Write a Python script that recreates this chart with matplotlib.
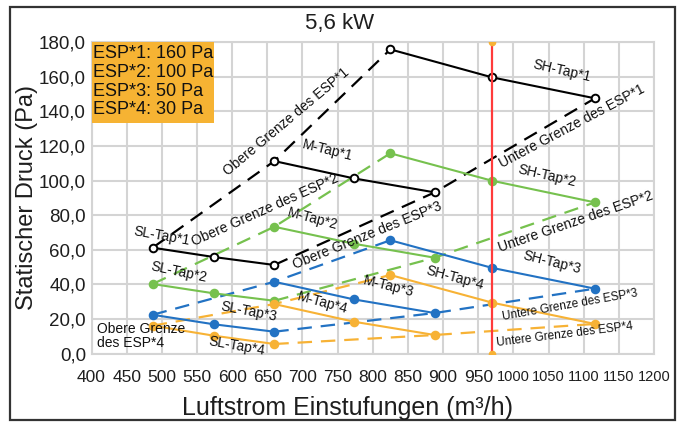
import matplotlib
matplotlib.use('Agg')
import matplotlib.pyplot as plt
from matplotlib import font_manager

# airflow per tap (m3/h)
airflow_sl = [487, 574, 660]
airflow_m = [660, 773, 888]
airflow_sh = [825, 970, 1116]

# static pressure (Pa) per ESP setting and tap
esp1_sl = [61.2, 55.8, 51.2]
esp1_m = [111.3, 101.3, 93.2]
esp1_sh = [175.9, 159.7, 147.6]
esp2_sl = [40.2, 34.8, 30.5]
esp2_m = [73.3, 63.5, 55.4]
esp2_sh = [115.8, 99.9, 87.4]
esp3_sl = [22.4, 16.9, 12.6]
esp3_m = [41.5, 31.3, 23.4]
esp3_sh = [65.5, 49.5, 37.5]
esp4_sl = [16.1, 10.3, 5.5]
esp4_m = [28.6, 18.4, 10.7]
esp4_sh = [45.4, 29.4, 17.1]

rated_airflow = 970
legend_lines = ['ESP*1: 160 Pa', 'ESP*2: 100 Pa', 'ESP*3: 50 Pa', 'ESP*4: 30 Pa']
x_ticks = list(range(400, 1201, 50))
y_ticks = list(range(0, 181, 20))

colors = ['#000000', '#76C14E', '#2272C3', '#F7B235']
esp_data = [
    (esp1_sl, esp1_m, esp1_sh),
    (esp2_sl, esp2_m, esp2_sh),
    (esp3_sl, esp3_m, esp3_sh),
    (esp4_sl, esp4_m, esp4_sh),
]


def pick_font(names):
    for n in names:
        try:
            font_manager.findfont(n, fallback_to_default=False)
            return n
        except Exception:
            pass
    return 'DejaVu Sans'


regular = pick_font(['Liberation Sans', 'Arial'])
plt.rcParams['font.family'] = [regular, 'DejaVu Sans']

fig = plt.figure(figsize=(6.89, 4.23), dpi=100)
ax = fig.add_axes([91.5 / 689, 1 - 353.5 / 423, (654 - 91.5) / 689, (353.5 - 42.3) / 423])

# frame round the whole picture
fig.patches.append(plt.Rectangle((10 / 689, 1 - 420 / 423), 665 / 689, 413 / 423,
                                 transform=fig.transFigure, fill=False,
                                 edgecolor='#333333', linewidth=1.6))

for c, (sl, m, sh) in zip(colors, esp_data):
    for xs, ys in ((airflow_sl, sl), (airflow_m, m), (airflow_sh, sh)):
        ax.plot(xs, ys, color=c, lw=1.5, marker='o', ms=5.5,
                mfc=('white' if c == '#000000' else c), mec=c, mew=1.4, zorder=4)
    # upper limit joins the first point of each tap, lower limit the last one
    upper_x = [airflow_sl[0], airflow_m[0], airflow_sh[0]]
    upper_y = [sl[0], m[0], sh[0]]
    lower_x = [airflow_sl[-1], airflow_m[-1], airflow_sh[-1]]
    lower_y = [sl[-1], m[-1], sh[-1]]
    ax.plot(upper_x, upper_y, color=c, lw=1.6, dashes=(6.5, 4), zorder=3)
    ax.plot(lower_x, lower_y, color=c, lw=1.6, dashes=(6.5, 4), zorder=3)

ax.plot([rated_airflow, rated_airflow], [0, 180], color='#FF3B3B', lw=1.6,
        marker='o', ms=4.5, mfc='#F7B235', mec='#F7B235', zorder=5)

ax.set_xlim(400, 1200)
ax.set_ylim(0, 180)
ax.set_xticks(x_ticks)
ax.set_yticks(y_ticks)
ax.set_yticklabels([f'{v},0' for v in y_ticks], fontsize=13.5)
ax.set_xticklabels([str(v) for v in x_ticks], fontsize=12.5)
for lab in ax.get_xticklabels():
    if len(lab.get_text()) == 4:
        lab.set_fontsize(10.5)
ax.tick_params(length=0, pad=4, colors='#1E1E1E')
ax.tick_params(axis='x', pad=12)
ax.grid(True, color='#D4D4D4', lw=1.5)
ax.set_axisbelow(True)
for s in ax.spines.values():
    s.set_color('#D4D4D4')
    s.set_linewidth(1.5)

ax.set_ylabel('Statischer Druck (Pa)', fontsize=17, color='#1E1E1E', labelpad=1)
fig.text(348 / 689, 1 - 408 / 423, 'Luftstrom Einstufungen (m³/h)', fontsize=18,
         ha='center', va='center', color='#1E1E1E')
fig.text(340 / 689, 1 - 24 / 423, '5,6 kW', fontsize=16, ha='center', va='center', color='#1E1E1E')

# ESP box
ax.add_patch(plt.Rectangle((400, 133.3), 174, 46.7, facecolor='#F6B333', edgecolor='none',
                           zorder=6, clip_on=False))
for i, line in enumerate(legend_lines):
    ax.text(402.5, 173.3 - i * 10.75, line, fontsize=13, va='center', ha='left',
            color='#111111', zorder=7)

lab_fs = 10
small_fs = 8.5
labels = [
    ('SH-Tap*1', 1069, 163.5, -13, lab_fs),
    ('Untere Grenze des ESP*1', 1083, 131.6, 28, lab_fs),
    ('Obere Grenze des ESP*1', 677, 133.9, 40, lab_fs),
    ('M-Tap*1', 736, 117.7, -14, lab_fs),
    ('SH-Tap*2', 1048, 103, -13, lab_fs),
    ('Obere Grenze des ESP*2', 647, 83, 24, lab_fs),
    ('Untere Grenze des ESP*2', 1089, 76, 19, lab_fs),
    ('SL-Tap*1', 500, 68, -10, lab_fs),
    ('M-Tap*2', 714, 77.8, -15, lab_fs),
    ('Obere Grenze des ESP*3', 792, 68, 22, lab_fs),
    ('SH-Tap*3', 1055, 52.9, -14, lab_fs),
    ('SL-Tap*2', 524.5, 47, -12, lab_fs),
    ('SH-Tap*4', 917, 43.7, -15, lab_fs),
    ('M-Tap*3', 822, 38.5, -14, lab_fs),
    ('M-Tap*4', 728, 29.2, -15, lab_fs),
    ('Untere Grenze des ESP*3', 1081, 28, 10, small_fs),
    ('SL-Tap*3', 624, 24, -11, lab_fs),
    ('SL-Tap*4', 607, 4.3, -10, lab_fs),
    ('Untere Grenze des ESP*4', 1073, 10.7, 7, small_fs),
]
for txt, x, y, rot, fs in labels:
    ax.text(x, y, txt, rotation=rot, rotation_mode='anchor', ha='center', va='center',
            fontsize=fs, color='#111111', zorder=6)
ax.text(408, 10.1, 'Obere Grenze\ndes ESP*4', ha='left', va='center', fontsize=lab_fs,
        color='#111111', linespacing=0.95, zorder=6)

fig.savefig('out.png', dpi=100)
